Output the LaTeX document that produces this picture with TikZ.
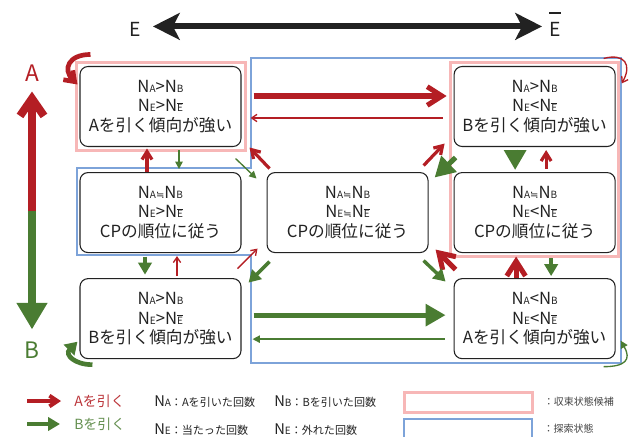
\documentclass[tikz,border=0pt]{standalone}
\usepackage{fontspec}
\setmainfont{Noto Sans CJK JP}
\newfontfamily\symfont{DejaVu Sans}
\usetikzlibrary{arrows.meta,calc,fit,positioning}
\definecolor{pullA}{RGB}{180,30,36}
\definecolor{pullB}{RGB}{74,124,50}
\definecolor{candi}{RGB}{247,183,183}
\definecolor{explo}{RGB}{125,163,217}
\definecolor{ink}{RGB}{34,34,34}
\newcommand\nsub[1]{{\fontsize{7.5}{7.5}\selectfont #1}}
\newcommand\legsz[1]{{\fontsize{8.3}{8.3}\selectfont #1}}
\newcommand\ebar{\nsub{\vbox{\hrule height .5pt\kern .9pt\hbox{E}}}}
\newcommand\approxeq{\nsub{\symfont ≒}}
\tikzset{>=Stealth,node distance=18.75pt}
\tikzset{
  box/.style={draw=ink,rounded corners=6pt,line width=.8pt,fill=white,minimum width=120.75pt,
    minimum height=60pt,align=center,text=ink,font=\fontsize{12.5}{14.6}\selectfont},
  candframe/.style={draw=candi,line width=2.25pt},
  explframe/.style={draw=explo,line width=1.5pt},
  aThin/.style={draw=pullA,line width=1pt,-{Straight Barb[length=4pt,width=5.5pt]}},
  aMid/.style={draw=pullA,line width=2.4pt,-{Straight Barb[length=6pt,width=7.5pt]}},
  aFat/.style={draw=pullA,line width=3.8pt,-{Straight Barb[length=11pt,width=14pt]}},
  aLoop/.style={draw=pullA,line width=3.5pt,-{Straight Barb[length=7pt,width=10pt]}},
  bThin/.style={draw=pullB,line width=1pt,-{Triangle[length=5.5pt,width=5.5pt]}},
  bMid/.style={draw=pullB,line width=2.6pt,-{Triangle[length=9pt,width=10pt]}},
  bFat/.style={draw=pullB,line width=3.8pt,-{Triangle[length=15pt,width=16pt]}},
  bLoop/.style={draw=pullB,line width=3.5pt,-{Triangle[length=9pt,width=11pt]}},
  legtext/.style={anchor=west,inner sep=0,text=ink,font=\fontsize{11}{11}\selectfont},
  legnote/.style={inner sep=0,text=ink!85,font=\fontsize{7.5}{7.5}\selectfont}
}
\begin{document}
\begin{tikzpicture}[x=0.75pt,y=-0.75pt]
\useasboundingbox (0,0) rectangle (636,436);
\node[box] (tl) at (160.5,106.5) {N\nsub{A}>N\nsub{B}\\N\nsub{E}>N\ebar\\Aを引く傾向が強い};
\node[box,below=of tl] (ml) {N\nsub{A}\approxeq N\nsub{B}\\N\nsub{E}>N\ebar\\CPの順位に従う};
\node[box,below=of ml] (bl) {N\nsub{A}>N\nsub{B}\\N\nsub{E}>N\ebar\\Bを引く傾向が強い};
\node[box,right=of ml] (ct) {N\nsub{A}\approxeq N\nsub{B}\\N\nsub{E}\approxeq N\ebar\\CPの順位に従う};
\node[box,right=of ct] (mr) {N\nsub{A}\approxeq N\nsub{B}\\N\nsub{E}<N\ebar\\CPの順位に従う};
\node[box,above=of mr] (tr) {N\nsub{A}>N\nsub{B}\\N\nsub{E}<N\ebar\\Bを引く傾向が強い};
\node[box,below=of mr] (br) {N\nsub{A}<N\nsub{B}\\N\nsub{E}<N\ebar\\Aを引く傾向が強い};
\node[candframe,fit=(tl),inner sep=2.6pt] (candL) {};
\node[candframe,fit=(tr)(mr),inner sep=2.4pt] (candR) {};
\draw[explframe] (251,58) -- (621,58) -- (621,363) -- (251,363) -- (251,255)
  -- (77,255) -- (77,168) -- (251,168) -- cycle;
% E / Ebar
\node[anchor=base,inner sep=0,text=ink,font=\fontsize{14.5}{14.5}\selectfont] (lblE) at (135,36) {E};
\node[anchor=base,inner sep=0,text=ink,font=\fontsize{14.5}{14.5}\selectfont] (lblEb) at (555,36)
  {\vbox{\hrule height 1pt\kern 6pt\hbox{E}}};
\draw[draw=ink,line width=4.5pt,{Stealth[length=20pt,width=20pt,inset=5pt]}-{Stealth[length=20pt,width=20pt,inset=5pt]}]
  ($(lblE.east)+(12,-2.5)$) -- ($(lblE.east -| lblEb.west)+(-7,-2.5)$);
% A / B
\node[inner sep=0,text=pullA,font=\fontsize{17}{17}\selectfont] (lblA) at (32,73) {A};
\node[inner sep=0,text=pullB,font=\fontsize{17}{17}\selectfont] (lblB) at (32,350) {B};
\coordinate (abmid) at (32,211);
\draw[draw=pullA,line width=6pt,-{Straight Barb[length=13pt,width=18pt]},shorten >=7.5pt] (abmid) -- (lblA);
\draw[draw=pullB,line width=6pt,-{Triangle[length=20pt,width=22pt]},shorten >=9pt] (abmid) -- (lblB);
% self loops
\draw[aLoop] ($(tl.north west)+(11,-11.5)$) to[out=180,in=135,looseness=1.7] ($(tl.north west)+(-2,18.5)$);
\draw[bLoop] ($(bl.south west)+(13,5.5)$) to[out=180,in=225,looseness=1.7] ($(bl.south west)+(-2,-17.5)$);
\draw[aThin] ($(tr.north east)+(-12,-7.5)$) to[out=15,in=60,looseness=1.8] ($(tr.north east)+(6,17.5)$);
\draw[bThin] ($(br.south east)+(-12,7.5)$) to[out=0,in=300,looseness=1.8] ($(br.south east)+(5,-18.5)$);
% transitions
\draw[aFat] ($(tl.east)+(12,-10.5)$) -- ($(tr.west)+(-7,-10.5)$);
\draw[aThin] ($(tr.west)+(-11,11.5)$) -- ($(tl.east)+(9,11.5)$);
\draw[bFat] ($(bl.east)+(12,-3.5)$) -- ($(br.west)+(-8,-3.5)$);
\draw[bThin] ($(br.west)+(-9,20.5)$) -- ($(bl.east)+(11,20.5)$);
\draw[aMid] ($(ml.north)+(-13.5,-0.5)$) -- ($(tl.south)+(-13.5,1.5)$);
\draw[bThin] ($(tl.south)+(18.5,3)$) -- ($(ml.north)+(18.5,-3)$);
\draw[bMid] ($(ml.south)+(-15.5,3.5)$) -- ($(bl.north)+(-15.5,-3.5)$);
\draw[aThin] ($(bl.north)+(16.5,-2)$) -- ($(ml.south)+(16.5,3)$);
\draw[aMid] ($(ct.north west)+(3,-3.5)$) -- ($(tl.south east)+(8,0.5)$);
\draw[bThin] ($(tl.south east)+(-6,11.5)$) -- ($(ct.north west)+(-10,6.5)$);
\draw[aThin] ($(bl.north east)+(-4,-9.5)$) -- ($(ct.south west)+(-9,-4.5)$);
\draw[bMid] ($(ct.south west)+(3,8.5)$) -- ($(bl.north east)+(7,4.5)$);
\draw[aMid] ($(ct.north east)+(-5,-6.5)$) -- ($(tr.south west)+(-9,-3.5)$);
\draw[bFat] ($(tr.south west)+(2,10.5)$) -- ($(ct.north east)+(6,5.5)$);
\draw[aFat] ($(br.north west)+(2,-8.5)$) -- ($(ct.south east)+(7,-3.5)$);
\draw[bMid] ($(ct.south east)+(-5,7.5)$) -- ($(br.north west)+(-8,3.5)$);
\draw[bFat] ($(tr.south)+(-19.5,2.5)$) -- ($(mr.north)+(-19.5,-2)$);
\draw[aMid] ($(mr.north)+(11.5,-3.5)$) -- ($(tr.south)+(11.5,3)$);
\draw[aFat] ($(br.north)+(-18.5,-0.5)$) -- ($(mr.south)+(-18.5,3.5)$);
\draw[bMid] ($(mr.south)+(16.5,5)$) -- ($(br.north)+(16.5,-2)$);
% legend
\node[anchor=west,inner sep=0,text=pullA!90,font=\fontsize{10.5}{10.5}\selectfont] (legA) at (74,401) {Aを引く};
\node[anchor=west,inner sep=0,text=pullB!85,font=\fontsize{10.5}{10.5}\selectfont] (legB) at (74,424) {Bを引く};
\draw[draw=pullA,line width=3pt,-{Straight Barb[length=6pt,width=8pt]}] ($(legA.west)+(-47,0)$) -- ($(legA.west)+(-13,0)$);
\draw[draw=pullB,line width=3pt,-{Triangle[length=9pt,width=10pt]}] ($(legB.west)+(-47,0)$) -- ($(legB.west)+(-14,0)$);
\node[legtext] (defA) at (154,402) {N\nsub{A}\legsz{：Aを引いた回数}};
\node[legtext] (defB) at (274,402) {N\nsub{B}\legsz{：Bを引いた回数}};
\node[legtext] (defE) at (154,430) {N\nsub{E}\legsz{：当たった回数}};
\node[legtext] (defEb) at (274,430) {N\nsub{E}\legsz{：外れた回数}};
\node[candframe,minimum width=96pt,minimum height=15pt,inner sep=0] (legCand) at (468,402) {};
\node[explframe,line width=1.9pt,minimum width=96pt,minimum height=15pt,inner sep=0] (legExpl) at (468,429) {};
\node[legnote,right=7.5pt of legCand] (noteCand) {：収束状態候補};
\node[legnote,right=7.5pt of legExpl] (noteExpl) {：探索状態};
\end{tikzpicture}
\end{document}
